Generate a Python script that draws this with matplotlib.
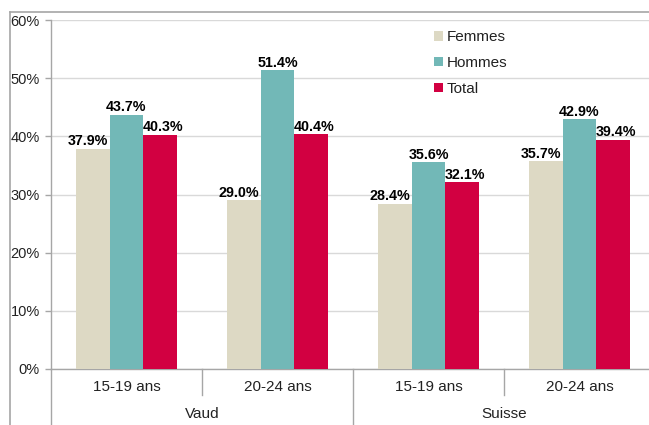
import matplotlib
matplotlib.use("Agg")
import matplotlib.pyplot as plt
from matplotlib.patches import Patch
from matplotlib.lines import Line2D
import numpy as np

plt.rcParams['font.family'] = ['Liberation Sans', 'DejaVu Sans']

categories = ["15-19 ans", "20-24 ans", "15-19 ans", "20-24 ans"]
groups = ["Vaud", "Suisse"]
series = ["Femmes", "Hommes", "Total"]
femmes = [37.9, 29.0, 28.4, 35.7]
hommes = [43.7, 51.4, 35.6, 42.9]
total = [40.3, 40.4, 32.1, 39.4]
yticks = [0, 10, 20, 30, 40, 50, 60]

colors = ["#ddd9c4", "#72b8b7", "#d20041"]
label_dx = [-5, 0, 3]  # px offsets of data labels

W, H = 649, 425
fig = plt.figure(figsize=(W / 100, H / 100), dpi=100)

# axes geometry in pixels
ax_left, ax_right = 51, 655
ax_top, ax_bottom = 20, 369
ax = fig.add_axes([ax_left / W, (H - ax_bottom) / H,
                   (ax_right - ax_left) / W, (ax_bottom - ax_top) / H])
ph = ax_bottom - ax_top

x = np.arange(len(categories))
bw = 0.222
vals = [femmes, hommes, total]
for i, (s, v, c) in enumerate(zip(series, vals, colors)):
    pos = x + (i - 1) * bw
    ax.bar(pos, v, width=bw, color=c, label=s, zorder=3)
    for p, val in zip(pos, v):
        ax.annotate(f"{val:.1f}%", (p, val), xytext=(label_dx[i] * 0.72, 0.3),
                    textcoords="offset points", ha="center", va="bottom",
                    fontsize=10.3, fontweight="bold", color="black",
                    zorder=4)

ax.set_xlim(-0.5, len(categories) - 0.5)
ax.set_ylim(0, 60)
ax.set_yticks(yticks)
ax.set_yticklabels([f"{t}%" for t in yticks], fontsize=10.5, color="#222222")
ax.grid(axis="y", color="#d9d9d9", linewidth=1, zorder=0)
ax.set_xticks([])
for side in ["top", "right"]:
    ax.spines[side].set_visible(False)
ax.spines["left"].set_color("#a6a6a6")
ax.spines["bottom"].set_color("#a6a6a6")
ax.spines["left"].set_linewidth(1)
ax.spines["bottom"].set_linewidth(1)
ax.tick_params(axis="y", length=4, color="#a6a6a6", pad=4, width=1)

# category labels and separators
trans = ax.get_xaxis_transform()
for xi, lab in zip(x, categories):
    ax.text(xi, -(387 - 369) / ph, lab, transform=trans, ha="center",
            va="center", fontsize=11, color="#222222")
for gi, g in enumerate(groups):
    ax.text(gi * 2 + 0.5, -(414.5 - 369) / ph, g, transform=trans,
            ha="center", va="center", fontsize=11, color="#222222")

sep_inner = -(395 - 369) / ph
sep_outer = -(430 - 369) / ph
for b in [0.5, 2.5]:
    ax.add_line(Line2D([b, b], [0, sep_inner], transform=trans, color="#a6a6a6",
                       lw=1, clip_on=False))
for b in [-0.5, 1.5, 3.5]:
    ax.add_line(Line2D([b, b], [0, sep_outer], transform=trans, color="#a6a6a6",
                       lw=1, clip_on=False))

# legend
handles = [Patch(facecolor=c, edgecolor="none") for c in colors]
leg = ax.legend(handles, series, loc="upper left",
                bbox_to_anchor=(428 / W, (H - 24) / H),
                bbox_transform=fig.transFigure, frameon=False,
                fontsize=11, handlelength=0.6, handleheight=0.6,
                handletextpad=0.25, labelspacing=0.78, borderaxespad=0)
for t in leg.get_texts():
    t.set_color("#222222")

# figure border (chart area frame, cropped on right/bottom)
fig.add_artist(Line2D([10 / W, 1.0], [(H - 12) / H, (H - 12) / H],
                      transform=fig.transFigure, color="#a6a6a6", lw=1.2))
fig.add_artist(Line2D([10 / W, 10 / W], [0, (H - 12) / H],
                      transform=fig.transFigure, color="#a6a6a6", lw=1.2))

fig.savefig("out.png", dpi=100)
